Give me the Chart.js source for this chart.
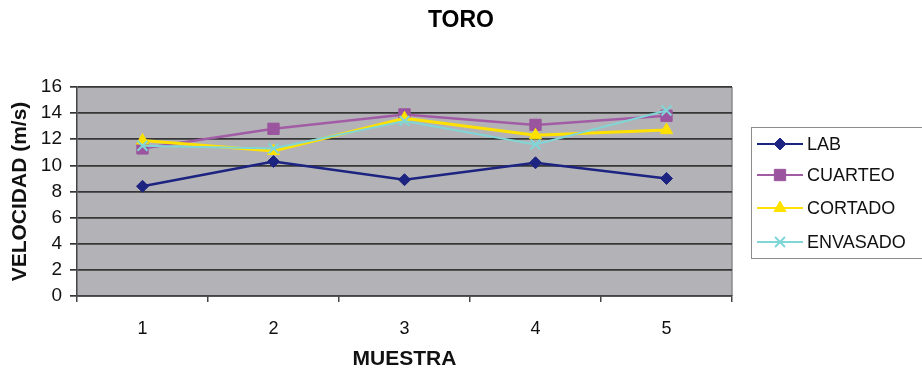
<!DOCTYPE html>
<html>
<head>
<meta charset="utf-8">
<script src="https://cdn.jsdelivr.net/npm/chart.js"></script>
<style>
  body { margin: 0; background: #fff; }
  #wrap { width: 922px; height: 376px; }
</style>
</head>
<body>
<div id="wrap"><canvas id="toro-chart" width="922" height="376"></canvas></div>
<script>
// muestras y valores
const muestras = ['1', '2', '3', '4', '5'];
const lab = [8.4, 10.3, 8.9, 10.2, 9.0];
const cuarteo = [11.3, 12.8, 13.9, 13.1, 13.8];
const cortado = [11.9, 11.1, 13.6, 12.3, 12.7];
const envasado = [11.5, 11.3, 13.4, 11.6, 14.2];

const FONT = "'Liberation Sans', Arial, sans-serif";

// fondo gris del area de trazado
const plotBackground = {
    id: 'plotBackground',
    beforeDraw(chart) {
        const { ctx, chartArea: a } = chart;
        ctx.save();
        ctx.fillStyle = '#b3b3b7';
        ctx.fillRect(a.left, a.top, a.right - a.left, a.bottom - a.top);
        ctx.strokeStyle = '#8a8a8a';
        ctx.lineWidth = 1.5;
        ctx.beginPath();
        ctx.moveTo(a.right, a.top);
        ctx.lineTo(a.right, a.bottom);
        ctx.stroke();
        ctx.restore();
    }
};

// titulo centrado en todo el lienzo, no solo en el area del grafico
const pageTitle = {
    id: 'pageTitle',
    afterDraw(chart) {
        const ctx = chart.ctx;
        ctx.save();
        ctx.fillStyle = '#000';
        ctx.font = 'bold 23px ' + FONT;
        ctx.textAlign = 'center';
        ctx.textBaseline = 'middle';
        ctx.fillText('TORO', 461, 21);
        ctx.restore();
    }
};

// leyenda dibujada a mano (la caja sale por el borde derecho)
const boxLegend = {
    id: 'boxLegend',
    afterDraw(chart) {
        const ctx = chart.ctx;
        ctx.save();
        ctx.strokeStyle = '#8c8c8c';
        ctx.lineWidth = 1;
        ctx.strokeRect(751.5, 127.5, 190, 131);
        const rows = [144, 175, 208, 242];
        chart.data.datasets.forEach((ds, i) => {
            const y = rows[i];
            ctx.strokeStyle = ds.borderColor;
            ctx.lineWidth = 2;
            ctx.beginPath();
            ctx.moveTo(757, y);
            ctx.lineTo(803, y);
            ctx.stroke();
            ctx.fillStyle = ds.pointBackgroundColor;
            ctx.strokeStyle = ds.pointBorderColor;
            ctx.lineWidth = ds.pointBorderWidth;
            Chart.helpers.drawPoint(ctx, {
                pointStyle: ds.pointStyle,
                radius: ds.pointRadius,
                borderWidth: ds.pointBorderWidth,
                rotation: 0
            }, 780, y);
            ctx.fillStyle = '#111';
            ctx.font = '18px ' + FONT;
            ctx.textBaseline = 'middle';
            ctx.fillText(ds.label, 807, y + 1);
        });
        ctx.restore();
    }
};

const canvas = document.querySelector('#toro-chart');

new Chart(canvas.getContext('2d'), {
    type: 'line',
    data: {
        labels: muestras,
        datasets: [
            {
                label: 'LAB',
                data: lab,
                borderColor: '#1c2380',
                borderWidth: 2.5,
                pointStyle: 'rectRot',
                pointRadius: 6,
                pointBackgroundColor: '#1c2380',
                pointBorderColor: '#1c2380',
                pointBorderWidth: 1,
                order: 3
            },
            {
                label: 'CUARTEO',
                data: cuarteo,
                borderColor: '#a25ca6',
                borderWidth: 2.5,
                pointStyle: 'rect',
                pointRadius: 8,
                pointBackgroundColor: '#9a559e',
                pointBorderColor: '#9a559e',
                pointBorderWidth: 1,
                order: 2
            },
            {
                label: 'CORTADO',
                data: cortado,
                borderColor: '#ffe100',
                borderWidth: 3,
                pointStyle: 'triangle',
                pointRadius: 7,
                pointBackgroundColor: '#ffe100',
                pointBorderColor: '#ffe100',
                pointBorderWidth: 1,
                order: 1
            },
            {
                label: 'ENVASADO',
                data: envasado,
                borderColor: '#80d6d6',
                borderWidth: 2,
                pointStyle: 'crossRot',
                pointRadius: 7,
                pointBackgroundColor: '#80d6d6',
                pointBorderColor: '#80d6d6',
                pointBorderWidth: 2,
                order: 0
            }
        ]
    },
    options: {
        responsive: false,
        animation: false,
        layout: { padding: { left: 4, right: 190, top: 87, bottom: 2 } },
        plugins: {
            legend: { display: false },
            tooltip: { enabled: false },
            title: { display: false }
        },
        scales: {
            x: {
                offset: true,
                grid: {
                    offset: true,
                    drawOnChartArea: false,
                    drawTicks: true,
                    tickLength: 6,
                    color: '#444',
                    lineWidth: 1.5
                },
                border: { color: '#444', width: 1.5 },
                ticks: {
                    color: '#111',
                    font: { family: FONT, size: 18 },
                    padding: 16,
                    maxRotation: 0
                },
                title: {
                    display: true,
                    text: 'MUESTRA',
                    color: '#111',
                    font: { family: FONT, size: 21, weight: 'bold' },
                    padding: { top: 0, bottom: 2 }
                },
                afterFit(scale) { scale.height = 78; }
            },
            y: {
                min: 0,
                max: 16,
                grid: {
                    drawTicks: true,
                    tickLength: 7,
                    color: '#363636',
                    lineWidth: 1.7
                },
                border: { color: '#444', width: 1.5 },
                ticks: {
                    stepSize: 2,
                    color: '#111',
                    font: { family: FONT, size: 19 },
                    padding: 8
                },
                title: {
                    display: true,
                    text: 'VELOCIDAD (m/s)',
                    color: '#111',
                    font: { family: FONT, size: 21, weight: 'bold' },
                    padding: { top: 4, bottom: 0 }
                },
                afterFit(scale) { scale.width = 73; }
            }
        }
    },
    plugins: [plotBackground, pageTitle, boxLegend]
});
</script>
</body>
</html>
